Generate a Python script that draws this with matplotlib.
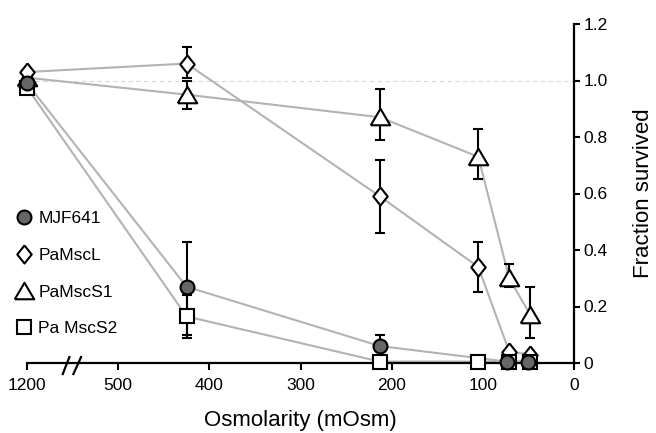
import matplotlib
matplotlib.use("Agg")
import matplotlib.pyplot as plt
import numpy as np

plt.rcParams['font.family'] = ['Liberation Sans', 'DejaVu Sans']

# ---- data ----
osmolarity = [1200, 425, 213, 105, 71, 48]
mjf641_osmolarity = [1200, 425, 213, 74, 51]
xtick_values = [1200, 500, 400, 300, 200, 100, 0]
ytick_values = [0, 0.2, 0.4, 0.6, 0.8, 1.0, 1.2]
ytick_labels = ["0", "0.2", "0.4", "0.6", "0.8", "1.0", "1.2"]

mjf641 = [0.99, 0.27, 0.06, 0.005, 0.005]
mjf641_up = [0, 0.16, 0.04, 0, 0]
mjf641_lo = [0, 0.17, 0.0, 0, 0]

pamscl = [1.03, 1.06, 0.59, 0.34, 0.04, 0.03]
pamscl_up = [0, 0.06, 0.13, 0.09, 0, 0]
pamscl_lo = [0, 0.05, 0.13, 0.09, 0, 0]

pamscs1 = [1.01, 0.95, 0.87, 0.73, 0.30, 0.17]
pamscs1_up = [0, 0.05, 0.10, 0.10, 0.05, 0.10]
pamscs1_lo = [0, 0.05, 0.08, 0.08, 0.03, 0.08]

pamscs2 = [0.975, 0.165, 0.005, 0.005, 0.005, 0.005]
pamscs2_up = [0, 0.075, 0, 0, 0, 0]
pamscs2_lo = [0, 0.075, 0, 0, 0, 0]

labels = ["MJF641", "PaMscL", "PaMscS1", "Pa MscS2"]


def xpos(v):
    # broken axis: 1200 is drawn one tick step beyond 500
    a = np.asarray(v, dtype=float)
    return np.where(a > 600, 600.0, a)


tri = [(-1, -0.8), (1, -0.8), (0, 0.9), (-1, -0.8)]
dia = [(0, 1), (0.8, 0), (0, -1), (-0.8, 0), (0, 1)]

fig = plt.figure(figsize=(6.56, 4.33), dpi=100)
ax = fig.add_axes([27 / 656, 1 - 363 / 433, (574 - 27) / 656, (363 - 24) / 433])

ax.axhline(1.0, color='#d8d8d8', lw=0.8, ls=(0, (4, 3)), zorder=1)

# (x, y, lo, up, marker, size, face, label, zorder)
series = [
    (mjf641_osmolarity, mjf641, mjf641_lo, mjf641_up, 'o', 10, '#666666', labels[0], 4.4),
    (osmolarity, pamscl, pamscl_lo, pamscl_up, dia, 13, 'white', labels[1], 4.1),
    (osmolarity, pamscs1, pamscs1_lo, pamscs1_up, tri, 14, 'white', labels[2], 4.0),
    (osmolarity, pamscs2, pamscs2_lo, pamscs2_up, 's', 9.5, 'white', labels[3], 4.2),
]

for (x, y, lo, up, mk, ms, fc, lab, z) in series:
    ax.plot(xpos(x), y, color='#b3b3b3', lw=1.5, zorder=2, clip_on=False)
for (x, y, lo, up, mk, ms, fc, lab, z) in series:
    ax.errorbar(xpos(x), y, yerr=[lo, up], fmt='none', ecolor='black', elinewidth=1.5,
                capsize=3.8, capthick=1.5, zorder=3, clip_on=False)
handles = []
for (x, y, lo, up, mk, ms, fc, lab, z) in series:
    h, = ax.plot(xpos(x), y, ls='none', marker=mk, ms=ms, mfc=fc, mec='black', mew=1.5,
                 zorder=z, clip_on=False, label=lab)
    handles.append(h)

ax.set_xlim(600, 0)
ax.set_ylim(0, 1.2)

ax.set_xticks(xpos(xtick_values))
ax.set_xticklabels([str(v) for v in xtick_values], fontsize=12.5)
ax.yaxis.tick_right()
ax.yaxis.set_label_position('right')
ax.set_yticks(ytick_values)
ax.set_yticklabels(ytick_labels, fontsize=12.5)
ax.tick_params(axis='x', direction='out', length=5, width=1.5, color='black', pad=6)
ax.tick_params(axis='y', direction='out', length=4, width=1.5, color='black', pad=3)

for s in ['left', 'top']:
    ax.spines[s].set_visible(False)
for s in ['right', 'bottom']:
    ax.spines[s].set_linewidth(1.6)

ax.set_xlabel("Osmolarity (mOsm)", fontsize=16, labelpad=12)
ax.set_ylabel("Fraction survived", fontsize=16, labelpad=18)

# axis break marks
for xb0, xb1 in [(560.8, 553.5), (549.1, 540.7)]:
    ax.plot([xb0, xb1], [-0.039, 0.021], color='black', lw=1.6, clip_on=False, zorder=5)

leg = fig.legend(handles=handles, loc='upper left', bbox_to_anchor=(15.0 / 656, 0.512),
                 frameon=False, fontsize=12.5, handlelength=1.0, handletextpad=0.35,
                 labelspacing=1.24, borderpad=0, borderaxespad=0, numpoints=1)

fig.savefig("out.png", dpi=100)
